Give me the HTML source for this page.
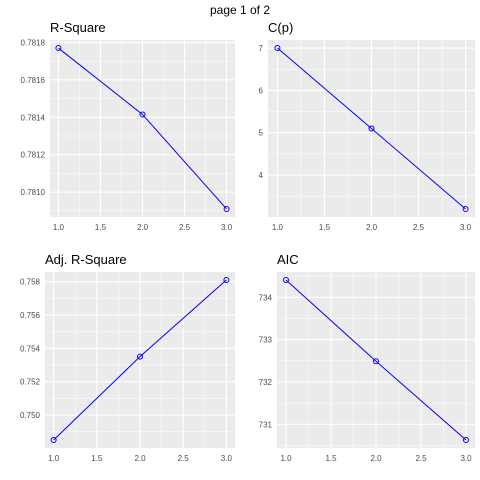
<!DOCTYPE html>
<html><head><meta charset="utf-8"><style>
body{margin:0;background:#fff;}
svg{display:block;font-family:"Liberation Sans",sans-serif;}
</style></head><body>
<svg id="chart" width="480" height="480">
<text x="240" y="14" text-anchor="middle" font-size="12" fill="#000">page 1 of 2</text>
</svg>
<script>
const steps = [1, 2, 3];
const rsquareValues = [0.78177, 0.781415, 0.78091];
const cpValues = [7.0, 5.1, 3.2];
const adjRsquareValues = [0.7485, 0.7535, 0.7581];
const aicValues = [734.41, 732.49, 730.63];
const xTicks = [1.0, 1.5, 2.0, 2.5, 3.0];
const rsquareTicks = [0.7810, 0.7812, 0.7814, 0.7816, 0.7818];
const cpTicks = [4, 5, 6, 7];
const adjTicks = [0.750, 0.752, 0.754, 0.756, 0.758];
const aicTicks = [731, 732, 733, 734];

const panels = [
  {name:'r-square', title:'R-Square', vals:rsquareValues, ticks:rsquareTicks, dec:4, box:[50,40,235,217]},
  {name:'cp', title:'C(p)', vals:cpValues, ticks:cpTicks, dec:0, box:[268,40,475,217]},
  {name:'adj-r-square', title:'Adj. R-Square', vals:adjRsquareValues, ticks:adjTicks, dec:3, box:[45,272,235,448]},
  {name:'aic', title:'AIC', vals:aicValues, ticks:aicTicks, dec:0, box:[277,272,475,448]}
];
const NS='http://www.w3.org/2000/svg';
const svg=document.getElementById('chart');
function mk(tag,attrs,parent){const e=document.createElementNS(NS,tag);for(const k in attrs)e.setAttribute(k,attrs[k]);(parent||svg).appendChild(e);return e;}

panels.forEach(p=>{
  const [x0,y0,x1,y1]=p.box;
  const g=mk('g',{});
  
  
  const xmin=Math.min(...steps),xmax=Math.max(...steps),xr=xmax-xmin;
  const lo=Math.min(...p.vals),hi=Math.max(...p.vals),r=hi-lo;
  const dx0=xmin-0.05*xr,dx1=xmax+0.05*xr,dy0=lo-0.05*r,dy1=hi+0.05*r;
  const sx=v=>x0+(v-dx0)/(dx1-dx0)*(x1-x0);
  const sy=v=>y1-(v-dy0)/(dy1-dy0)*(y1-y0);
  const bg=mk('rect',{x:x0,y:y0,width:x1-x0,height:y1-y0,fill:'#EBEBEB'},g);
  
  
  const tstep=p.ticks[1]-p.ticks[0];
  for(let i=-1;i<p.ticks.length;i++){const v=p.ticks[0]+(i+0.5)*tstep;if(v<dy0||v>dy1)continue;
    mk('line',{x1:x0,x2:x1,y1:sy(v),y2:sy(v),stroke:'#fff','stroke-width':0.5},g);}
  for(let i=-1;i<xTicks.length;i++){const v=xTicks[0]+(i+0.5)*0.5;if(v<dx0||v>dx1)continue;
    mk('line',{y1:y0,y2:y1,x1:sx(v),x2:sx(v),stroke:'#fff','stroke-width':0.5},g);}
  p.ticks.forEach(v=>{const y=sy(v);
    mk('line',{x1:x0,x2:x1,y1:y,y2:y,stroke:'#fff','stroke-width':1.1},g);
    const t=mk('text',{x:x0-5,y:y+3,'text-anchor':'end','font-size':8,fill:'#4D4D4D'},g);
    t.textContent=v.toFixed(p.dec);
    
    
  });
  xTicks.forEach(v=>{const x=sx(v);
    mk('line',{y1:y0,y2:y1,x1:x,x2:x,stroke:'#fff','stroke-width':1.1},g);
    const t=mk('text',{x:x,y:y1+13,'text-anchor':'middle','font-size':8,fill:'#4D4D4D'},g);
    t.textContent=v.toFixed(1);
    
    
  });
  const pts=steps.map((s,i)=>sx(s)+','+sy(p.vals[i])).join(' ');
  const line=mk('polyline',{points:pts,fill:'none',stroke:'#0000FF','stroke-width':1},g);
  
  
  steps.forEach((s,i)=>{
    const c=mk('circle',{cx:sx(s),cy:sy(p.vals[i]),r:2.5,fill:'none',stroke:'#0000FF','stroke-width':1},g);
    
    
  });
  const tt=mk('text',{x:x0,y:y0-8,'font-size':13,fill:'#000'},g);
  tt.textContent=p.title;
  
  
});
</script>
</body></html>
